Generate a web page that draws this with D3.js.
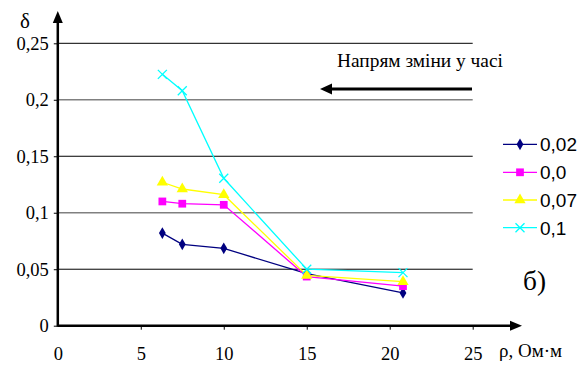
<!DOCTYPE html>
<html><head><meta charset="utf-8">
<script src="https://cdn.jsdelivr.net/npm/d3@7"></script>
<style>body{margin:0;background:#fff}</style>
</head><body>
<svg id="c" width="587" height="369"></svg>
<script>
const rho = [6.3, 7.5, 10, 15, 20.8];
const s002 = [0.082, 0.072, 0.0685, 0.046, 0.029];
const s00  = [0.110, 0.108, 0.107, 0.0435, 0.035];
const s007 = [0.127, 0.121, 0.116, 0.0445, 0.039];
const s01  = [0.2225, 0.208, 0.1305, 0.050, 0.047];
const seriesNames = ["0,02", "0,0", "0,07", "0,1"];
const seriesColors = ["#000080", "#ff00ff", "#ffff00", "#00ffff"];
const seriesSymbols = ["diamond", "square", "triangle", "cross"];
const xTicks = [0, 5, 10, 15, 20, 25];
const yTicks = [0, 0.05, 0.1, 0.15, 0.2, 0.25];
const yTickLabels = ["0", "0,05", "0,1", "0,15", "0,2", "0,25"];

const svg = d3.select("#c");
const x = d3.scaleLinear().domain([0, 25]).range([57.8, 472.7]);
const y = d3.scaleLinear().domain([0, 0.25]).range([325.7, 43.3]);
const serif = "Liberation Serif";
const sans = "Liberation Sans";

function fit(sel, w) {
  const n = sel.node();
  const cur = +sel.attr("font-size");
  const len = n.getComputedTextLength();
  if (len > 0) sel.attr("font-size", cur * w / len);
  return sel;
}

// gridlines
svg.append("g").selectAll("line").data(yTicks.slice(1)).join("line")
  .attr("x1", x(0)).attr("x2", x(25))
  .attr("y1", d => y(d)).attr("y2", d => y(d))
  .attr("stroke", (d, i) => (i % 2 === 1) ? "#808080" : "#000")
  .attr("stroke-width", (d, i) => (i % 2 === 1) ? 1.6 : 1);

// axes
const xAxis = d3.axisBottom(x).tickValues(xTicks).tickSize(4).tickFormat(d => d);
const gx = svg.append("g").attr("transform", `translate(0,${y(0)})`).call(xAxis);
gx.attr("font-family", null).attr("font-size", null);
gx.select(".domain").remove();
gx.selectAll("line").attr("stroke", "#000");
gx.selectAll("text").style("font-family", serif).style("font-size", "18.5px").attr("fill", "#000").attr("y", 34).attr("dy", null);
gx.selectAll(".tick").filter(d => d === 0).select("line").remove();

const yAxis = d3.axisLeft(y).tickValues(yTicks).tickSize(4).tickFormat((d, i) => yTickLabels[i]);
const gy = svg.append("g").attr("transform", `translate(${x(0)},0)`).call(yAxis);
gy.attr("font-family", null).attr("font-size", null);
gy.select(".domain").remove();
gy.selectAll("line").attr("stroke", "#000");
gy.selectAll("text").style("font-family", serif).style("font-size", "18.5px").attr("fill", "#000").attr("x", -9).attr("dy", "0.33em");

// axis lines with arrows
svg.append("line").attr("x1", x(0)).attr("x2", 512).attr("y1", y(0)).attr("y2", y(0)).attr("stroke", "#000").attr("stroke-width", 2.5);
svg.append("path").attr("d", `M522,${y(0)} L510,${y(0)-5} L510,${y(0)+5} Z`).attr("fill", "#000");
svg.append("line").attr("x1", x(0)).attr("x2", x(0)).attr("y1", y(0)+1).attr("y2", 20).attr("stroke", "#000").attr("stroke-width", 2.5);
svg.append("path").attr("d", `M${x(0)},11 L${x(0)-5},23 L${x(0)+5},23 Z`).attr("fill", "#000");

// series
const all = [s002, s00, s007, s01];
const symMap = {diamond: d3.symbolDiamond, square: d3.symbolSquare, triangle: d3.symbolTriangle};
const symSize = {diamond: 40, square: 60, triangle: 55};
const line = d3.line().x((d, i) => x(rho[i])).y(d => y(d));
function drawSym(g, type, cx, cy, color) {
  if (type === "cross") {
    g.append("path").attr("d", `M${cx-4.5},${cy-4.5}L${cx+4.5},${cy+4.5}M${cx-4.5},${cy+4.5}L${cx+4.5},${cy-4.5}`)
      .attr("stroke", color).attr("stroke-width", 1.3).attr("fill", "none");
  } else {
    g.append("path").attr("d", d3.symbol().type(symMap[type]).size(symSize[type])())
      .attr("transform", `translate(${cx},${cy})`).attr("fill", color);
  }
}
all.forEach((s, k) => {
  svg.append("path").datum(s).attr("d", line).attr("fill", "none").attr("stroke", seriesColors[k]).attr("stroke-width", 1.3);
});
all.forEach((s, k) => {
  const g = svg.append("g");
  s.forEach((v, i) => drawSym(g, seriesSymbols[k], x(rho[i]), y(v), seriesColors[k]));
});

// legend
const legY = [144.3, 172.3, 200, 227.7];
seriesNames.forEach((n, k) => {
  const g = svg.append("g");
  g.append("line").attr("x1", 503).attr("x2", 537).attr("y1", legY[k]).attr("y2", legY[k]).attr("stroke", seriesColors[k]).attr("stroke-width", 1.3);
  drawSym(g, seriesSymbols[k], 520, legY[k], seriesColors[k]);
  g.append("text").attr("x", 540).attr("y", legY[k]).attr("dy", "0.36em").attr("font-family", sans).attr("font-size", 19).text(n);
});

// annotations
fit(svg.append("text").attr("x", 337).attr("y", 67).attr("font-family", serif).attr("font-size", 16).text("Напрям зміни у часі"), 166);
svg.append("line").attr("x1", 472).attr("x2", 330).attr("y1", 89).attr("y2", 89).attr("stroke", "#000").attr("stroke-width", 3);
svg.append("path").attr("d", "M320,89 L332,83.5 L332,94.5 Z").attr("fill", "#000");
fit(svg.append("text").attr("x", 523).attr("y", 290).attr("font-family", serif).attr("font-size", 22).text("б)"), 23);
fit(svg.append("text").attr("x", 499).attr("y", 357).attr("font-family", serif).attr("font-size", 16).text("ρ, Ом·м"), 63);
svg.append("text").attr("x", 20).attr("y", 28).attr("font-family", serif).attr("font-size", 21).text("δ");
</script>
</body></html>
